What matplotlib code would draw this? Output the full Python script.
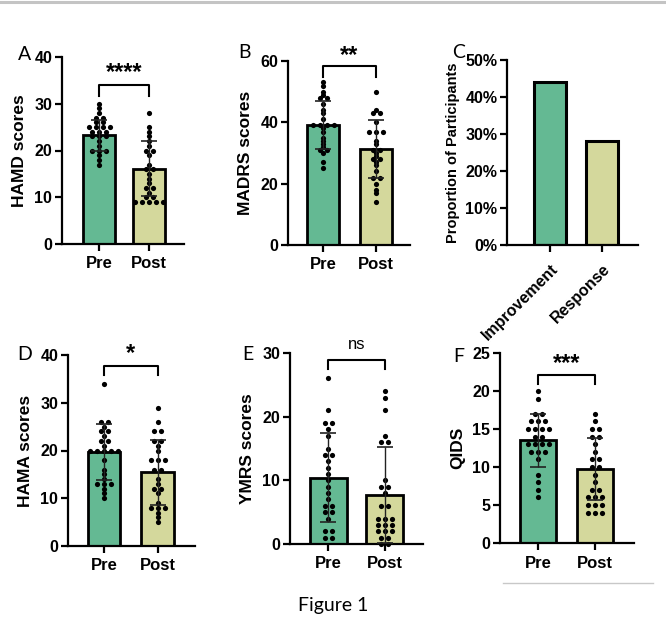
import numpy as np
import matplotlib.pyplot as plt
from matplotlib.lines import Line2D

plt.rcParams['font.family'] = ['Liberation Sans', 'DejaVu Sans']

W, H = 666, 638

groups = ['Pre', 'Post']
green = '#64B993'
khaki = '#D4D89C'

# A - HAMD
hamd_pre = [30, 29, 28, 27, 27, 26, 26, 25, 25, 25, 25, 24, 24, 24, 23, 23, 23,
            22, 21, 20, 20, 20, 19, 18, 17]
hamd_post = [28, 25, 24, 23, 22, 21, 20, 20, 19, 17, 16, 16, 15, 14, 13, 12, 12,
             11, 10, 10, 9, 9, 9, 9, 9]
hamd_mean = [23.3, 16.1]
hamd_sd = [3.3, 5.9]

# B - MADRS
madrs_pre = [53, 52, 50, 49, 48, 48, 46, 44, 43, 41, 39, 39, 39, 39, 38, 37, 35,
             34, 33, 32, 31, 31, 30, 27, 25]
madrs_post = [50, 44, 43, 43, 40, 37, 37, 37, 34, 33, 31, 31, 30, 29, 28, 28, 27,
              26, 24, 22, 22, 20, 18, 17, 14]
madrs_mean = [39.2, 31.3]
madrs_sd = [7.9, 9.6]

# C - proportions
outcomes = ['Improvement', 'Response']
proportions = [0.44, 0.28]

# D - HAMA
hama_pre = [34, 26, 26, 25, 24, 24, 23, 22, 22, 21, 20, 20, 20, 20, 20, 18, 16,
            15, 14, 13, 13, 13, 12, 11, 10]
hama_post = [29, 26, 24, 24, 22, 22, 21, 20, 18, 18, 18, 16, 16, 14, 13, 12, 12,
             11, 9, 8, 8, 8, 7, 6, 5]
hama_mean = [19.7, 15.4]
hama_sd = [5.9, 6.9]

# E - YMRS
ymrs_pre = [26, 21, 19, 19, 18, 17, 15, 14, 14, 13, 12, 11, 10, 9, 8, 7, 6, 6,
            5, 5, 4, 2, 2, 1, 1]
ymrs_post = [24, 23, 21, 17, 16, 16, 10, 9, 9, 8, 6, 6, 4, 4, 4, 3, 3, 3, 2, 2,
             2, 1, 1, 0, 0]
ymrs_mean = [10.4, 7.7]
ymrs_sd = [7.0, 7.5]

# F - QIDS
qids_pre = [20, 19, 17, 17, 16, 16, 16, 15, 15, 15, 15, 14, 14, 13, 13, 13, 13,
            12, 12, 12, 11, 9, 8, 7, 6]
qids_post = [17, 16, 15, 15, 14, 14, 13, 12, 11, 11, 10, 10, 9, 8, 7, 7, 6, 6,
             6, 5, 5, 5, 4, 4, 4]
qids_mean = [13.5, 9.7]
qids_sd = [3.45, 4.1]


def axes_px(fig, left, right, top, bottom):
    return fig.add_axes([left / W, 1 - bottom / H, (right - left) / W, (bottom - top) / H])


def style_axes(ax):
    for s in ['top', 'right']:
        ax.spines[s].set_visible(False)
    for s in ['left', 'bottom']:
        ax.spines[s].set_linewidth(1.6)
    ax.tick_params(direction='out', length=5, width=1.6, labelsize=11.5, pad=2)
    ax.tick_params(axis='x', labelsize=12, pad=4)
    for lab in ax.get_xticklabels() + ax.get_yticklabels():
        lab.set_fontweight('bold')


def swarm_x(values, center, step):
    vals = np.array(values)
    out = np.empty(len(vals))
    for v in np.unique(vals):
        idx = np.where(vals == v)[0]
        n = len(idx)
        out[idx] = center + (np.arange(n) - (n - 1) / 2) * step
    return out


def score_panel(ax, pre, post, means, sds, ylabel, ymax, ystep, xlim, width,
                sig, br_y, leg_y, sig_y, px_unit):
    ax.set_xlim(*xlim)
    ax.set_ylim(0, ymax)
    ax.bar([0, 1], means, width=width, color=[green, khaki], edgecolor='black',
           linewidth=2, zorder=2)
    step = 7.0 / px_unit
    for i, vals in enumerate([pre, post]):
        ax.scatter(swarm_x(vals, i, step), vals, s=14, color='black', zorder=3,
                   clip_on=False, linewidths=0)
    ax.errorbar([0, 1], means, yerr=sds, fmt='none', ecolor='#222222',
                elinewidth=1.0, capsize=5.5, capthick=1.2, zorder=4)
    ax.plot([0, 0, 1, 1], [leg_y, br_y, br_y, leg_y], color='black', lw=1.5,
            clip_on=False)
    if sig == 'ns':
        ax.text(0.5, sig_y, sig, ha='center', va='center', fontsize=12,
                clip_on=False)
    else:
        ax.text(0.5, sig_y, sig, ha='center', va='center', fontsize=17,
                fontweight='bold', clip_on=False)
    ax.set_xticks([0, 1])
    ax.set_xticklabels(groups)
    ax.set_yticks(np.arange(0, ymax + 0.1, ystep))
    ax.set_ylabel(ylabel, fontsize=12.5, fontweight='bold', labelpad=5)
    style_axes(ax)


fig = plt.figure(figsize=(W / 100, H / 100), dpi=100)

# A
ax = axes_px(fig, 62, 184, 57, 244)
score_panel(ax, hamd_pre, hamd_post, hamd_mean, hamd_sd, 'HAMD scores', 40, 10,
            (-0.74, 1.70), 0.65, '****', 34, 31.6, 36.6, 50)

# B
ax = axes_px(fig, 288, 410, 61, 245)
score_panel(ax, madrs_pre, madrs_post, madrs_mean, madrs_sd, 'MADRS scores', 60, 20,
            (-0.66, 1.64), 0.62, '**', 58.4, 54.8, 61.8, 53)

# C
ax = axes_px(fig, 507, 638, 60, 245)
ax.set_xlim(-0.83, 1.69)
ax.set_ylim(0, 0.5)
ax.bar([0, 1], proportions, width=0.62, color=[green, khaki], edgecolor='black',
       linewidth=2.2, zorder=2)
ax.set_xticks([0, 1])
ax.set_xticklabels(outcomes, rotation=45, ha='right', rotation_mode='anchor')
ax.set_yticks(np.arange(0, 0.51, 0.1))
ax.set_yticklabels([f'{int(round(v * 100))}%' for v in np.arange(0, 0.51, 0.1)])
ax.set_ylabel('Proportion of Participants', fontsize=10.5, fontweight='bold',
              labelpad=4)
style_axes(ax)
ax.tick_params(axis='x', labelsize=11.5, pad=7)

# D
ax = axes_px(fig, 68, 195, 355, 546)
score_panel(ax, hama_pre, hama_post, hama_mean, hama_sd, 'HAMA scores', 40, 10,
            (-0.67, 1.69), 0.61, '*', 37.7, 35.8, 40.4, 54)

# E
ax = axes_px(fig, 290, 423, 353, 544)
score_panel(ax, ymrs_pre, ymrs_post, ymrs_mean, ymrs_sd, 'YMRS scores', 30, 10,
            (-0.67, 1.67), 0.65, 'ns', 28.9, 27.5, 31.3, 57)

# F
ax = axes_px(fig, 500, 634, 353, 543)
score_panel(ax, qids_pre, qids_post, qids_mean, qids_sd, 'QIDS', 25, 5,
            (-0.67, 1.68), 0.63, '***', 22.1, 20.9, 23.6, 57)

# panel letters
for letter, x, y in [('A', 25, 54), ('B', 245, 53), ('C', 459, 53),
                     ('D', 25, 355), ('E', 248, 354), ('F', 459, 356)]:
    fig.text(x / W, 1 - y / H, letter, fontsize=14, family='Lato',
             ha='center', va='center')

fig.text(333 / W, 1 - 606 / H, 'Figure 1', fontsize=14, family='Lato',
         ha='center', va='center')

# decorative rules
fig.add_artist(Line2D([0, 1], [1 - 2 / H, 1 - 2 / H], color='#c4c4c4', lw=2.2,
                      transform=fig.transFigure))
fig.add_artist(Line2D([503 / W, 653 / W], [1 - 583 / H, 1 - 583 / H],
                      color='#c8c8c8', lw=1.0, transform=fig.transFigure))

fig.savefig('out.png', dpi=100)
